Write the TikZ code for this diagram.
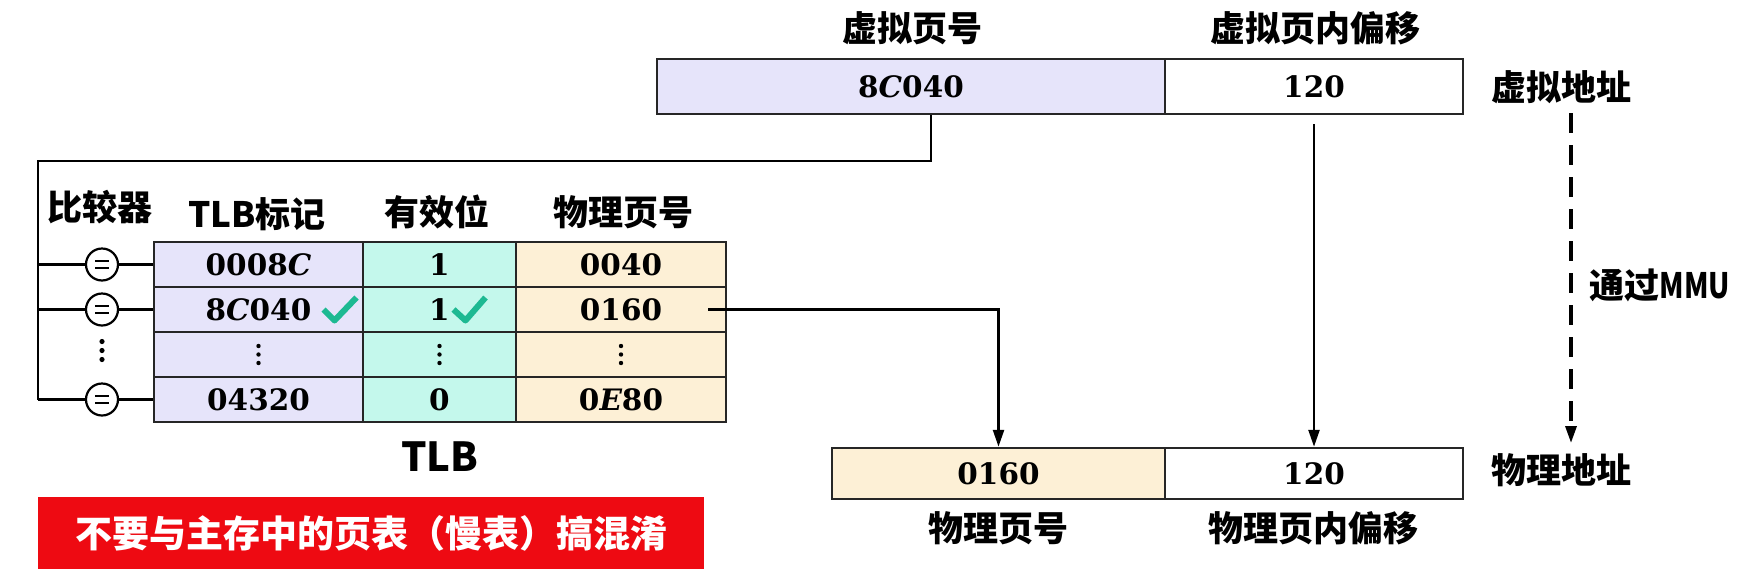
\documentclass[tikz,border=0pt]{standalone}
\usepackage{fontspec}
\usepackage{graphicx}
\setmainfont{DejaVu Serif}
\newfontfamily\cjk{Noto Sans CJK SC}
\usepackage{tikz}
\usetikzlibrary{arrows.meta,positioning,calc}

\definecolor{tagcol}{HTML}{E6E4FA}
\definecolor{validcol}{HTML}{C4F8EC}
\definecolor{ppncol}{HTML}{FDF0D6}
\definecolor{hitcol}{HTML}{1DB992}
\definecolor{warnred}{HTML}{EE0A12}

\tikzset{
  cell/.style={draw=black!85, line width=2.5pt, inner sep=0pt, minimum height=45pt,
    font=\bfseries\fontsize{29.5}{36}\selectfont},
  hdr/.style={font=\cjk\bfseries\fontsize{35}{40}\selectfont},
  wire/.style={line width=2.5pt},
  cmp/.style={draw, circle, line width=2.2pt, minimum size=32pt, inner sep=0pt},
  hitmark/.style={hitcol, line width=6pt, line join=round},
}

\begin{document}
\begin{tikzpicture}[x=1pt, y=-1pt, >={Triangle[length=17pt,width=11pt]}]
  \useasboundingbox (0,0) rectangle (1744,584);
  \fill[white] (0,0) rectangle (1744,584);

  % Virtual address
  \node[cell, fill=tagcol, minimum width=508pt, minimum height=55pt] (vpn) at (911,86.5) {8{\itshape C}040};
  \node[cell, fill=white, minimum width=298pt, minimum height=55pt] (voff) at (1314,86.5) {120};
  \node[hdr] at (912,28) {虚拟页号};
  \node[hdr] at (1315,28) {虚拟页内偏移};
  \node[hdr] (vaddr) at (1561,87) {虚拟地址};

  % Physical address
  \node[cell, fill=ppncol, minimum width=333pt, minimum height=51pt] (pppn) at (998.5,473.5) {0160};
  \node[cell, fill=white, minimum width=298pt, minimum height=51pt] (poff) at (1314,473.5) {120};
  \node[hdr] at (998,528) {物理页号};
  \node[hdr] at (1313,528) {物理页内偏移};
  \node[hdr] (paddr) at (1561,470) {物理地址};

  % TLB
  \foreach \r/\y/\tg/\v/\p in {1/264.5/0008{\itshape C}/1/0040, 2/309.5/8{\itshape C}040/1/0160,
      3/354.5/{}/{}/{}, 4/399.5/04320/0/0{\itshape E}80} {
    \node[cell, fill=tagcol, minimum width=209pt] (tag\r) at (258.5,\y) {\tg};
    \node[cell, fill=validcol, minimum width=153pt] (valid\r) at (439.5,\y) {\v};
    \node[cell, fill=ppncol, minimum width=210pt] (ppn\r) at (621,\y) {\p};
  }
  \foreach \c in {tag3,valid3,ppn3}
    \foreach \d in {-8.5,0,8.5}
      \fill ($(\c)+(0,\d)$) circle (2.2pt);
  \node[hdr] at (100,207) {比较器};
  \node[hdr] at (257,214) {TLB标记};
  \node[hdr] at (437,212) {有效位};
  \node[hdr] at (623,212) {物理页号};
  \node[font=\cjk\bfseries\fontsize{40}{44}\selectfont] (tlb) at (440,457) {TLB};

  % Hits
  \draw[hitmark] ($(tag2)+(65,0)$) -- ++(11,11) -- ++(22,-23);
  \draw[hitmark] ($(valid2)+(14,0)$) -- ++(12,11) -- ++(20,-23);

  % Comparators
  \coordinate (bus) at (38,161);
  \coordinate (cmpx) at (102,0);
  \foreach \r in {1,2,4} {
    \node[cmp] (cmp\r) at (cmpx |- tag\r) {};
    \draw[line width=2.2pt] ($(cmp\r)+(-7,-3.5)$) -- ++(14,0) ($(cmp\r)+(-7,3.5)$) -- ++(14,0);
  }
  \coordinate (cmp3) at ($(cmpx |- tag3)+(0,-4)$);
  \foreach \d in {-9,0,9}
    \fill ($(cmp3)+(0,\d)$) circle (2.6pt);
  \draw[wire] ([xshift=20pt]vpn.south) |- (bus) -- (bus |- cmp4);
  \foreach \r in {1,2,4} {
    \draw[wire] (bus |- cmp\r) -- (cmp\r) -- (tag\r);
  }

  % Translation
  \draw[wire, ->] ([xshift=-19pt]ppn2.east) -| (pppn.north);
  \draw[wire, ->] ([yshift=-9pt]voff.south) -- (poff.north);
  \draw[line width=3.2pt, dash pattern=on 20pt off 12pt, ->] ($(vaddr)+(10,26)$) -- ($(paddr)+(10,-27)$);
  \node[hdr, anchor=west] (mmu) at (1586,285) {通过\scalebox{0.8}[1]{MMU}};

  % Warning
  \node[fill=warnred, minimum width=666pt, minimum height=72pt, text=white,
    font=\cjk\bfseries\fontsize{37}{40}\selectfont] (warn) at (371,533) {不要与主存中的页表（慢表）搞混淆};
\end{tikzpicture}
\end{document}
